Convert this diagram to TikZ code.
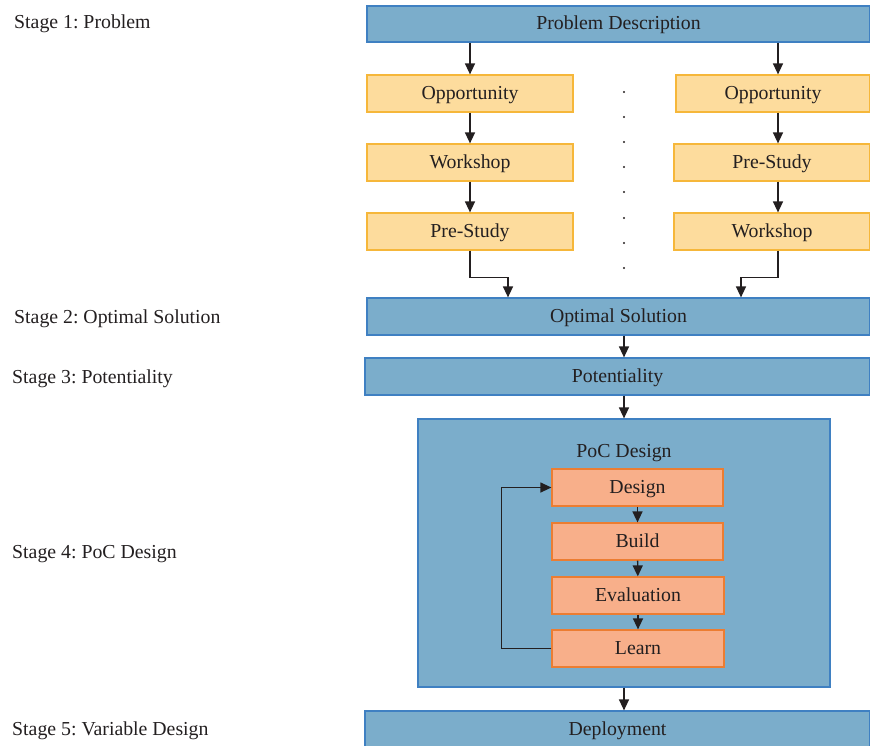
\documentclass[tikz,border=0pt]{standalone}
\usepackage{fontspec}
\setmainfont{Liberation Serif}
\usetikzlibrary{arrows.meta}
\frenchspacing
\definecolor{stageblue}{HTML}{7BADCB}
\definecolor{stageedge}{HTML}{3F80C2}
\definecolor{optfill}{HTML}{FDDC9D}
\definecolor{optedge}{HTML}{F6B73A}
\definecolor{pocfill}{HTML}{F8AF8A}
\definecolor{pocedge}{HTML}{EC7D32}
\definecolor{ink}{HTML}{231F20}
\tikzset{
  txt/.style={inner sep=0pt, text=ink, text height=16pt, text depth=4pt,
    font=\fontsize{19.8}{22}\selectfont},
  box/.style={txt, draw, line width=1.2pt},
  bluebox/.style={box, fill=stageblue, draw=stageedge},
  yellowbox/.style={box, fill=optfill, draw=optedge},
  orangebox/.style={box, fill=pocfill, draw=pocedge},
  stagelabel/.style={txt, anchor=west},
  flow/.style={draw=ink, line width=1.4pt, -{Triangle[length=11pt,width=10pt]}},
  dot/.style={circle, fill=ink, inner sep=0pt, minimum size=2.2pt},
}
\begin{document}
\begin{tikzpicture}[x=1pt,y=-1pt]
\useasboundingbox (0,0) rectangle (870,746);

% stage 1: problem and the two candidate paths
\node[bluebox, minimum width=503, minimum height=36] (prob) at (618.5,24) {Problem Description};
\node[yellowbox, minimum width=206, minimum height=37] (oppL) at (470,93.5) {Opportunity};
\node[yellowbox, minimum width=194, minimum height=37] (oppR) at (773,93.5) {Opportunity};
\node[yellowbox, minimum width=206, minimum height=37] (wsL) at (470,162.5) {Workshop};
\node[yellowbox, minimum width=196, minimum height=37] (psR) at (772,162.5) {Pre-Study};
\node[yellowbox, minimum width=206, minimum height=37] (psL) at (470,231.5) {Pre-Study};
\node[yellowbox, minimum width=196, minimum height=37] (wsR) at (772,231.5) {Workshop};

% vertical ellipsis between the paths
\foreach \yy [count=\i] in {92,117,142,167,192,218,243,268}
  \node[dot] (d\i) at (624,\yy) {};

% stages 2 and 3
\node[bluebox, minimum width=503, minimum height=37] (opt) at (618.5,316.5) {Optimal Solution};
\node[bluebox, minimum width=505, minimum height=37] (pot) at (617.5,376.5) {Potentiality};

% stage 4: PoC design loop
\node[bluebox, minimum width=412, minimum height=268] (poc) at (624,553) {};
\node[txt] (poct) at (624,451) {PoC Design};
\node[orangebox, minimum width=171, minimum height=37] (des) at (637.5,487.5) {Design};
\node[orangebox, minimum width=171, minimum height=37] (bld) at (637.5,541.5) {Build};
\node[orangebox, minimum width=172, minimum height=37] (evl) at (638,595.5) {Evaluation};
\node[orangebox, minimum width=172, minimum height=37] (lrn) at (638,648.5) {Learn};

% stage 5
\node[bluebox, minimum width=505, minimum height=36] (dep) at (617.5,729) {Deployment};

% stage labels
\node[stagelabel] (s1) at (14,23) {Stage 1: Problem};
\node[stagelabel] (s2) at (14,317) {Stage 2: Optimal Solution};
\node[stagelabel] (s3) at (12,377) {Stage 3: Potentiality};
\node[stagelabel] (s4) at (12,552) {Stage 4: PoC Design};
\node[stagelabel] (s5) at (12,729) {Stage 5: Variable Design};

% connectors
\draw[flow] (prob.south -| oppL) -- (oppL.north);
\draw[flow] (prob.south -| 778,0) -- (oppR.north -| 778,0);
\draw[flow] (oppL) -- (wsL);
\draw[flow] (wsL) -- (psL);
\draw[flow] (oppR.south -| 778,0) -- (psR.north -| 778,0);
\draw[flow] (psR.south -| 778,0) -- (wsR.north -| 778,0);
\draw[flow] (psL.south) -- ++(0,27) -| (opt.north -| 508,0);
\draw[flow] (wsR.south -| 778,0) -- ++(0,27) -| (opt.north -| 741,0);
\draw[flow] (opt.south -| 624,0) -- (pot.north -| 624,0);
\draw[flow] (pot.south -| 624,0) -- (poc.north);
\draw[flow] (poc.south) -- (dep.north -| 624,0);
\draw[flow] (des) -- (bld);
\draw[flow] (bld) -- (evl);
\draw[flow] (evl) -- (lrn);
\draw[flow, line width=1.2pt] (lrn.west) -- ++(-50,0) |- (des.west);
\end{tikzpicture}
\end{document}
